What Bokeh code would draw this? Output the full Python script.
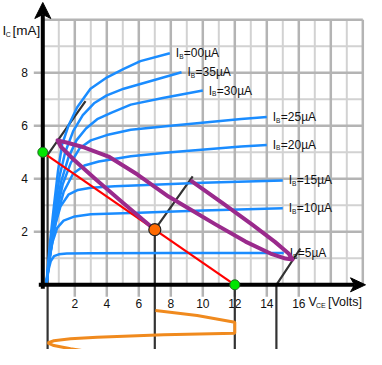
from bokeh.plotting import figure
from bokeh.models import Range1d
from bokeh.embed import file_html
from bokeh.resources import INLINE
from bokeh.core.properties import value

# ---------------- data ----------------
vce_ticks = [2, 4, 6, 8, 10, 12, 14, 16]
ic_ticks = [2, 4, 6, 8]
vce_grid = list(range(1, 21))
ic_grid = list(range(1, 11))

ib_labels = ["=5µA", "=10µA", "=15µA", "=20µA", "=25µA", "=30µA", "=35µA", "=00µA"]

v_ib5 = [0.22, 0.35, 0.5, 0.7, 1.0, 1.5, 3.0, 8.0, 15.06]
i_ib5 = [0.0, 0.55, 0.9, 1.08, 1.15, 1.18, 1.19, 1.2, 1.2]
v_ib10 = [0.22, 0.4, 0.6, 0.9, 1.3, 2.0, 3.0, 6.0, 10.0, 15.0]
i_ib10 = [0.0, 0.9, 1.6, 2.15, 2.42, 2.58, 2.66, 2.72, 2.8, 2.89]
v_ib15 = [0.22, 0.45, 0.75, 1.1, 1.6, 2.2, 3.0, 4.5, 6.1, 10.0, 15.0]
i_ib15 = [0.0, 1.1, 2.2, 2.95, 3.4, 3.58, 3.66, 3.72, 3.76, 3.85, 3.94]
v_ib20 = [0.22, 0.5, 0.85, 1.3, 1.9, 2.6, 3.5, 5.5, 8.0, 12.4, 14.0]
i_ib20 = [0.0, 1.3, 2.5, 3.5, 4.2, 4.5, 4.65, 4.85, 5.0, 5.22, 5.28]
v_ib25 = [0.22, 0.5, 0.85, 1.25, 1.75, 2.3, 3.0, 4.0, 5.5, 8.0, 12.4, 14.0]
i_ib25 = [0.0, 1.4, 2.7, 3.8, 4.6, 5.15, 5.45, 5.65, 5.85, 6.0, 6.26, 6.33]
v_ib30 = [0.22, 0.5, 0.8, 1.15, 1.6, 2.1, 2.7, 3.4, 4.3, 5.5, 7.5, 10.0]
i_ib30 = [0.0, 1.5, 2.8, 3.9, 4.8, 5.45, 5.9, 6.25, 6.5, 6.8, 7.05, 7.33]
v_ib35 = [0.22, 0.47, 0.75, 1.05, 1.4, 1.9, 2.5, 3.2, 4.0, 5.06, 6.1, 8.67]
i_ib35 = [0.0, 1.5, 2.9, 4.1, 5.0, 5.8, 6.4, 6.85, 7.15, 7.4, 7.58, 8.02]
v_ib40 = [0.22, 0.45, 0.7, 0.95, 1.21, 1.6, 2.15, 2.98, 4.02, 5.06, 6.1, 7.94]
i_ib40 = [0.0, 1.6, 3.0, 4.3, 5.3, 6.0, 6.7, 7.4, 7.83, 8.15, 8.44, 8.74]

load_v = [0.0, 12.0]
load_i = [5.0, 0.0]
q_v = [7.0]
q_i = [2.08]

# operating-point swing drawn along the slanted time axis through Q
swing_v = [7.0, 5.06, 3.32, 1.96, 1.13, 0.92,
           1.48, 2.61, 4.11, 5.92, 7.86, 9.23, 10.79, 12.67, 14.23, 15.17, 15.61,
           15.38, 14.51, 13.09, 11.26, 9.23]
swing_i = [2.08, 3.07, 3.97, 4.71, 5.21, 5.45,
           5.37, 5.18, 4.84, 4.16, 3.33, 2.84, 2.28, 1.63, 1.18, 0.99, 0.955,
           1.17, 1.62, 2.27, 3.07, 3.94]

# time axes (black): vertical foot then slanted part
tax_left_v = [0.3, 0.3, 2.67]
tax_left_i = [-3.0, 4.9, 6.93]
tax_q_v = [7.0, 7.0, 9.37]
tax_q_i = [-3.0, 2.08, 4.09]
tax_right_v = [14.6, 14.6, 16.1]
tax_right_i = [-3.0, 0.0, 1.37]
cut_v = [12.0, 12.0]
cut_i = [-3.0, 0.0]

# output voltage waveform (below the axis, time runs downward)
wave_v = [7.04, 9.65, 12.0, 12.0, 7.56, 3.40, 1.73, 0.69, 0.31, 0.69, 1.73, 3.40, 5.48, 6.84]
wave_t = [-0.97, -1.158, -1.411, -1.826, -1.887, -1.977, -2.038, -2.113, -2.189, -2.291,
          -2.415, -2.566, -2.755, -2.921]

# ---------------- figure ----------------
W, H = 366, 349
X0 = -42.3 / 16.0
X1 = X0 + W / 16.0
Y1 = 284.3 / 26.5
Y0 = Y1 - H / 26.5
pxv = (X1 - X0) / W      # volts per pixel
pxi = (Y1 - Y0) / H      # mA per pixel

p = figure(width=W, height=H, output_backend="svg", toolbar_location=None,
           x_range=Range1d(X0, X1), y_range=Range1d(Y0, Y1),
           x_axis_type=None, y_axis_type=None, min_border=0)
p.grid.visible = False
p.outline_line_color = None
p.background_fill_color = "white"
p.border_fill_color = "white"

FONT = value("Liberation Sans")
TXT = "#111111"
vmax = vce_grid[-1]
imax = ic_grid[-1]

# grid
minor_v = [v for v in vce_grid if v % 2]
major_v = [v for v in vce_grid if not v % 2]
minor_i = [i for i in ic_grid if i % 2]
major_i = [i for i in ic_grid if not i % 2]
p.multi_line(xs=[[v, v] for v in minor_v], ys=[[0, imax] for v in minor_v],
             line_color="#d2d2d2", line_width=2)
p.multi_line(xs=[[0, vmax] for i in minor_i], ys=[[i, i] for i in minor_i],
             line_color="#d2d2d2", line_width=2)
p.multi_line(xs=[[v, v] for v in major_v],
             ys=[[(-12 * pxi if v in vce_ticks else 0), imax] for v in major_v],
             line_color="#b4b4b4", line_width=2.5)
p.multi_line(xs=[[(-9 * pxv if i in ic_ticks else 0), vmax] for i in major_i],
             ys=[[i, i] for i in major_i],
             line_color="#b4b4b4", line_width=2.5)

# tick labels
p.text(x=vce_ticks, y=[0] * len(vce_ticks), text=[str(v) for v in vce_ticks],
       y_offset=19, text_align="center", text_baseline="middle",
       text_font=FONT, text_font_size="12px", text_color=TXT)
p.text(x=[0] * len(ic_ticks), y=ic_ticks, text=[str(i) for i in ic_ticks],
       x_offset=-15, text_align="right", text_baseline="middle",
       text_font=FONT, text_font_size="12px", text_color=TXT)

# time axes
for xs, ys in [(tax_left_v, tax_left_i), (tax_q_v, tax_q_i),
               (tax_right_v, tax_right_i), (cut_v, cut_i)]:
    p.line(xs, ys, line_color="#333333", line_width=2.2)

# characteristic curves
curves_v = [v_ib5, v_ib10, v_ib15, v_ib20, v_ib25, v_ib30, v_ib35, v_ib40]
curves_i = [i_ib5, i_ib10, i_ib15, i_ib20, i_ib25, i_ib30, i_ib35, i_ib40]
p.multi_line(xs=curves_v, ys=curves_i, line_color="#1a8cff", line_width=2.5,
             line_join="round")

# curve labels
ends_v = [c[-1] for c in curves_v]
ends_i = [c[-1] for c in curves_i]
p.text(x=ends_v, y=ends_i, text=["I"] * len(ends_v), x_offset=6,
       text_baseline="middle", text_font=FONT, text_font_size="12px", text_color=TXT)
p.text(x=ends_v, y=ends_i, text=["B"] * len(ends_v), x_offset=9.3, y_offset=3,
       text_baseline="middle", text_font=FONT, text_font_size="6.5px", text_color=TXT)
p.text(x=ends_v, y=ends_i, text=ib_labels, x_offset=14,
       text_baseline="middle", text_font=FONT, text_font_size="12px", text_color=TXT)

# load line
p.line(load_v, load_i, line_color="#ff0000", line_width=2.2)

# swing of the operating point
p.line(swing_v, swing_i, line_color="#9a2a8c", line_width=4, line_join="round")

# output waveform
p.line(wave_v, wave_t, line_color="#f08a1e", line_width=3)

# axes with arrow heads
p.line([0, 0], [-4 * pxi, Y1 - 14 * pxi], line_color="black", line_width=4)
p.line([-4 * pxv, X1 - 12 * pxv], [0, 0], line_color="black", line_width=4)
p.patch([0, 8 * pxv, 0, -8 * pxv], [Y1 - 2 * pxi, Y1 - 18 * pxi, Y1 - 14 * pxi, Y1 - 18 * pxi],
        color="black")
p.patch([X1 - 1 * pxv, X1 - 16 * pxv, X1 - 12 * pxv, X1 - 16 * pxv],
        [0, 7 * pxi, 0, -7 * pxi], color="black")

# points
p.scatter(x=[load_v[0], load_v[1]], y=[load_i[0], load_i[1]], size=10,
          fill_color="#00e600", line_color="#226622", line_width=1)
p.scatter(x=q_v, y=q_i, size=12, fill_color="#ff6a00", line_color="#222222", line_width=1.2)

# axis titles
p.text(x=[X0], y=[Y1], text=["I"], x_offset=2, y_offset=30, text_baseline="middle",
       text_font=FONT, text_font_size="13.5px", text_color=TXT)
p.text(x=[X0], y=[Y1], text=["C"], x_offset=5.3, y_offset=33.5, text_baseline="middle",
       text_font=FONT, text_font_size="7px", text_color=TXT)
p.text(x=[X0], y=[Y1], text=["[mA]"], x_offset=12, y_offset=30, text_baseline="middle",
       text_font=FONT, text_font_size="13.5px", text_color=TXT)
p.text(x=[X1], y=[0], text=["V"], x_offset=-58, y_offset=17, text_baseline="middle",
       text_font=FONT, text_font_size="12.5px", text_color=TXT)
p.text(x=[X1], y=[0], text=["CE"], x_offset=-50.5, y_offset=20.5, text_baseline="middle",
       text_font=FONT, text_font_size="7px", text_color=TXT)
p.text(x=[X1], y=[0], text=["[Volts]"], x_offset=-38.5, y_offset=17, text_baseline="middle",
       text_font=FONT, text_font_size="12.5px", text_color=TXT)

open("out.html", "w").write(file_html(p, INLINE))
